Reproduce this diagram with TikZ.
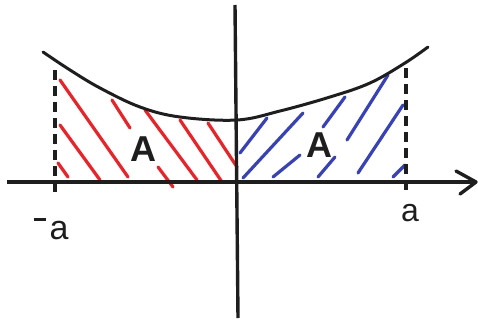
\documentclass[tikz,border=0pt]{standalone}
\usepackage{fontspec}
\setmainfont{Liberation Sans}
\definecolor{hred}{RGB}{235,35,40}
\definecolor{hblue}{RGB}{55,65,185}
\definecolor{ink}{RGB}{30,30,30}
\begin{document}
\begin{tikzpicture}[x=1pt,y=-1pt,
  axisline/.style={line width=3.4pt,ink},
  curveline/.style={line width=3pt,ink},
  dashline/.style={line width=3.4pt,ink,dash pattern=on 10pt off 6pt},
  redhatch/.style={line width=3.2pt,hred,line cap=round},
  bluehatch/.style={line width=3.2pt,hblue,line cap=round},
  lbl/.style={inner sep=0pt,text=ink}]
\useasboundingbox (0,0) rectangle (478,324);
% axes
\coordinate (xs) at (7,182);
\coordinate (xe) at (476,182);
\coordinate (ys) at (235,5);
\coordinate (ye) at (238,318);
\coordinate (ah1) at (456,171);
\coordinate (ah2) at (460,194);
% red hatching
\draw[redhatch] (60,80) -- (128,177);
\draw[redhatch] (60,125) -- (100,180);
\draw[redhatch] (58,163) -- (68,177);
\draw[redhatch] (112,100) -- (130,128);
\draw[redhatch] (158,167) -- (173,187);
\draw[redhatch] (145,110) -- (197,180);
\draw[redhatch] (180,120) -- (222,182);
\draw[redhatch] (208,123) -- (237,167);
% blue hatching
\draw[bluehatch] (240,153) -- (267,118);
\draw[bluehatch] (243,178) -- (303,113);
\draw[bluehatch] (273,177) -- (300,155);
\draw[bluehatch] (323,127) -- (345,97);
\draw[bluehatch] (318,177) -- (335,157);
\draw[bluehatch] (347,140) -- (388,75);
\draw[bluehatch] (358,173) -- (403,105);
\draw[bluehatch] (393,177) -- (405,165);
% axes drawn
\draw[axisline] (xs) -- (xe);
\draw[axisline,line cap=round,line join=round] (ah1) -- (xe) -- (ah2);
\draw[axisline] (ys) -- (ye);
% curve
\draw[curveline,line cap=round] plot[smooth,tension=0.6] coordinates {(43,52) (70,70) (100,88) (140,107) (180,117) (237,120) (280,111) (330,97) (370,83) (405,63) (428,47)};
% dashed verticals
\coordinate (dl1) at (55,70);
\coordinate (dl2) at (55,192);
\coordinate (dr1) at (406,68);
\coordinate (dr2) at (406,190);
\draw[dashline] (dl1) -- (dl2);
\draw[dashline] (dr1) -- (dr2);
% labels
\node[lbl,font=\bfseries\fontsize{36}{36}\selectfont] (Aleft) at (143,149) {A};
\node[lbl,font=\bfseries\fontsize{36}{36}\selectfont] (Aright) at (319,145) {A};
\node[lbl,font=\fontsize{34}{34}\selectfont,anchor=base] (ma) at (51,239) {\raisebox{18pt}{\rule{12pt}{3pt}}\hspace{4pt}a};
\node[lbl,font=\fontsize{32}{32}\selectfont,anchor=base] (pa) at (410,221) {a};
\end{tikzpicture}
\end{document}
